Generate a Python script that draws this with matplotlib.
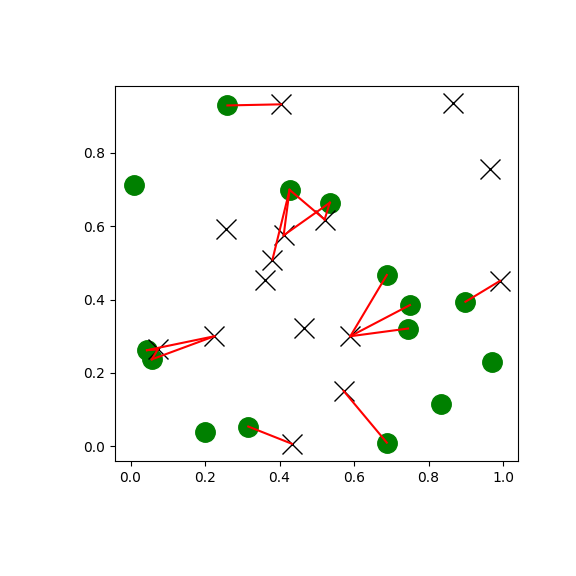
import numpy as np
import matplotlib.pyplot as plt

# green points
gx = [0.260, 0.008, 0.427, 0.535, 0.688, 0.750, 0.899, 0.745,
      0.044, 0.057, 0.970, 0.834, 0.199, 0.316, 0.688]
gy = [0.929, 0.711, 0.699, 0.664, 0.467, 0.385, 0.394, 0.321,
      0.262, 0.237, 0.231, 0.116, 0.040, 0.054, 0.010]

# cross points
cx = [0.404, 0.865, 0.965, 0.257, 0.411, 0.521, 0.381, 0.360,
      0.992, 0.465, 0.590, 0.225, 0.073, 0.572, 0.433]
cy = [0.932, 0.936, 0.755, 0.593, 0.575, 0.618, 0.509, 0.453,
      0.451, 0.323, 0.300, 0.300, 0.264, 0.151, 0.007]

# links (green index, cross index)
links = [(0, 0), (2, 4), (2, 6), (2, 5), (3, 4), (3, 5),
         (4, 10), (5, 10), (7, 10), (6, 8),
         (8, 12), (8, 11), (9, 12), (9, 11),
         (13, 14), (14, 13)]

fig = plt.figure(figsize=(5.76, 5.76), dpi=100)
ax = fig.add_axes([0.2, 0.2, 0.7, 0.651])

ax.plot(gx, gy, 'o', color='green', markersize=14, linestyle='none')
ax.plot(cx, cy, 'x', color='black', markersize=14, linestyle='none')
for g, c in links:
    ax.plot([gx[g], cx[c]], [gy[g], cy[c]], '-', color='red', lw=1.5)

plt.savefig('out.png')
